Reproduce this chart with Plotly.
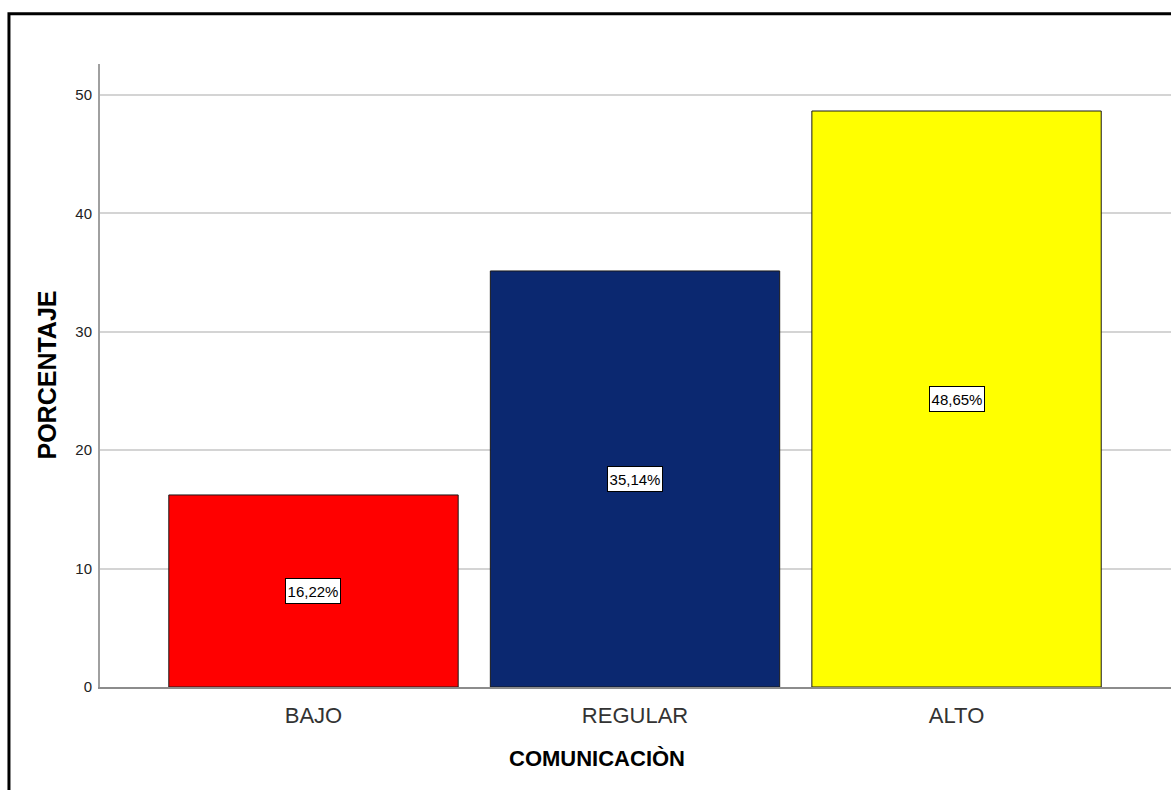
import plotly.graph_objects as go

# Data
categorias = ["BAJO", "REGULAR", "ALTO"]
porcentajes = [16.22, 35.14, 48.65]
colores = ["#FF0000", "#0B2870", "#FFFF00"]
ticks_y = [0, 10, 20, 30, 40, 50]

SANS = "Liberation Sans, Arial, sans-serif"

fig = go.Figure()
fig.add_trace(go.Bar(
    x=categorias,
    y=porcentajes,
    width=0.9,
    marker=dict(color=colores, line=dict(color="#1a1a1a", width=1)),
    hoverinfo="skip",
))

# Boxed value labels centred in each bar
for cat, val in zip(categorias, porcentajes):
    fig.add_annotation(
        x=cat, y=val / 2, xref="x", yref="y",
        text=f"{val:.2f}%".replace(".", ","),
        showarrow=False,
        font=dict(family=SANS, size=15, color="#000000"),
        width=52, height=22,
        bgcolor="#FFFFFF", bordercolor="#000000", borderwidth=1, borderpad=1,
    )

# Axis titles
fig.add_annotation(
    x=0.464, y=-0.114, xref="paper", yref="paper",
    text="<b>COMUNICACIÒN</b>", showarrow=False,
    font=dict(family=SANS, size=22, color="#000000"),
    xanchor="center", yanchor="middle",
)
fig.add_annotation(
    x=-0.0504, y=0.5, xref="paper", yref="paper",
    text="<b>PORCENTAJE</b>", showarrow=False, textangle=-90,
    font=dict(family=SANS, size=25, color="#000000"),
    xanchor="center", yanchor="middle",
)

# Outer frame
fig.add_shape(type="rect", xref="paper", yref="paper",
              x0=-0.085, x1=1.1, y0=-0.2, y1=1.0805,
              line=dict(color="#000000", width=3), layer="above")

fig.update_layout(
    width=1171, height=790,
    margin=dict(l=100, r=0, t=64, b=103),
    paper_bgcolor="#FFFFFF", plot_bgcolor="#FFFFFF",
    showlegend=False,
    bargap=0.1,
    xaxis=dict(
        range=[-0.664, 2.667],
        showline=True, linecolor="#8c8c8c", linewidth=2,
        showgrid=False, ticks="",
        ticklabelstandoff=8,
        tickfont=dict(family=SANS, size=22, color="#333333"),
    ),
    yaxis=dict(
        range=[0, 52.62],
        tickvals=ticks_y,
        showline=True, linecolor="#a0a0a0", linewidth=2,
        showgrid=True, gridcolor="#d4d4d4", gridwidth=2,
        zeroline=False, ticks="",
        ticklabelstandoff=3,
        tickfont=dict(family=SANS, size=15, color="#222222"),
    ),
)

fig.write_html("out.html")
